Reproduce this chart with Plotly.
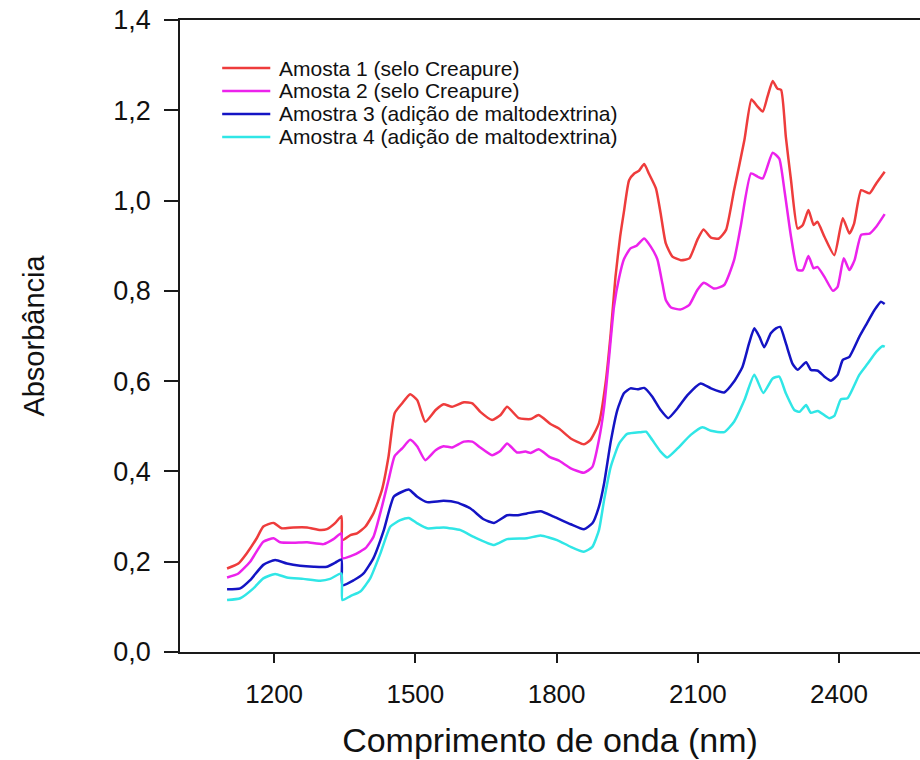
import plotly.graph_objects as go

# NIR absorbance spectra of four creatine samples
wl_a1 = [1100, 1124, 1142, 1163, 1177, 1199, 1216, 1241, 1270, 1298, 1312, 1330, 1343, 1345, 1362, 1376,
         1394, 1411, 1429, 1443, 1456, 1472, 1489, 1504, 1521, 1543, 1560, 1578, 1603, 1621, 1638, 1663,
         1681, 1695, 1720, 1745, 1762, 1787, 1805, 1830, 1858, 1872, 1890, 1904, 1915, 1925, 1935, 1943,
         1954, 1965, 1975, 1986, 1996, 2011, 2021, 2032, 2046, 2064, 2082, 2099, 2112, 2128, 2145, 2160,
         2177, 2199, 2214, 2227, 2238, 2248, 2259, 2269, 2277, 2287, 2298, 2312, 2323, 2335, 2346, 2354,
         2369, 2390, 2408, 2422, 2432, 2447, 2465, 2479, 2497]
abs_a1 = [0.185, 0.196, 0.219, 0.252, 0.278, 0.286, 0.274, 0.276, 0.276, 0.270, 0.272, 0.286, 0.301, 0.248, 0.259, 0.263,
          0.278, 0.307, 0.359, 0.433, 0.529, 0.551, 0.571, 0.558, 0.510, 0.536, 0.549, 0.543, 0.553, 0.551, 0.532, 0.514,
          0.525, 0.543, 0.518, 0.516, 0.525, 0.505, 0.495, 0.473, 0.460, 0.470, 0.507, 0.595, 0.706, 0.830, 0.920, 0.975,
          1.045, 1.060, 1.066, 1.081, 1.060, 1.027, 0.972, 0.905, 0.876, 0.868, 0.872, 0.913, 0.936, 0.918, 0.916, 0.935,
          1.023, 1.134, 1.224, 1.208, 1.197, 1.230, 1.265, 1.248, 1.245, 1.141, 1.045, 0.938, 0.946, 0.979, 0.946, 0.953,
          0.920, 0.879, 0.961, 0.927, 0.949, 1.023, 1.016, 1.038, 1.064]

wl_a2 = [1100, 1124, 1149, 1177, 1199, 1213, 1241, 1270, 1305, 1326, 1343, 1345, 1369, 1394, 1411, 1429,
         1443, 1456, 1472, 1489, 1504, 1521, 1543, 1560, 1578, 1603, 1621, 1638, 1663, 1681, 1695, 1716,
         1734, 1745, 1762, 1787, 1805, 1830, 1858, 1876, 1890, 1901, 1911, 1922, 1933, 1943, 1957, 1970,
         1986, 2000, 2014, 2025, 2032, 2043, 2064, 2082, 2099, 2113, 2135, 2156, 2177, 2191, 2213, 2227,
         2238, 2259, 2273, 2284, 2298, 2312, 2323, 2335, 2346, 2354, 2369, 2387, 2397, 2410, 2422, 2433,
         2447, 2465, 2479, 2497]
abs_a2 = [0.165, 0.174, 0.200, 0.244, 0.252, 0.243, 0.242, 0.243, 0.239, 0.250, 0.263, 0.208, 0.215, 0.230, 0.255, 0.322,
          0.381, 0.434, 0.451, 0.470, 0.455, 0.425, 0.447, 0.456, 0.453, 0.466, 0.466, 0.453, 0.436, 0.446, 0.462, 0.442,
          0.444, 0.441, 0.449, 0.431, 0.424, 0.407, 0.397, 0.410, 0.470, 0.543, 0.647, 0.765, 0.830, 0.870, 0.894, 0.900,
          0.916, 0.898, 0.870, 0.815, 0.780, 0.763, 0.759, 0.769, 0.802, 0.818, 0.805, 0.813, 0.868, 0.942, 1.060, 1.053,
          1.049, 1.106, 1.093, 1.023, 0.920, 0.846, 0.846, 0.877, 0.850, 0.853, 0.831, 0.800, 0.809, 0.872, 0.846, 0.868,
          0.924, 0.927, 0.942, 0.970]

wl_a3 = [1100, 1128, 1149, 1177, 1202, 1227, 1255, 1284, 1312, 1330, 1343, 1345, 1369, 1390, 1411, 1433,
         1454, 1472, 1486, 1504, 1525, 1560, 1589, 1617, 1645, 1667, 1695, 1716, 1737, 1766, 1794, 1830,
         1858, 1876, 1890, 1901, 1915, 1929, 1943, 1957, 1972, 1986, 2003, 2021, 2037, 2057, 2078, 2106,
         2128, 2156, 2177, 2195, 2209, 2220, 2231, 2241, 2255, 2266, 2275, 2287, 2301, 2312, 2330, 2340,
         2355, 2369, 2383, 2397, 2408, 2422, 2443, 2457, 2475, 2489, 2497]
abs_a3 = [0.139, 0.141, 0.159, 0.193, 0.204, 0.196, 0.191, 0.189, 0.189, 0.198, 0.205, 0.148, 0.159, 0.174, 0.208, 0.270,
          0.344, 0.355, 0.360, 0.344, 0.332, 0.335, 0.331, 0.318, 0.294, 0.286, 0.303, 0.303, 0.307, 0.312, 0.300, 0.283,
          0.272, 0.285, 0.322, 0.374, 0.466, 0.536, 0.573, 0.584, 0.582, 0.585, 0.566, 0.536, 0.518, 0.540, 0.569, 0.595,
          0.584, 0.575, 0.599, 0.632, 0.684, 0.717, 0.698, 0.675, 0.706, 0.717, 0.720, 0.684, 0.639, 0.625, 0.642, 0.625,
          0.623, 0.610, 0.601, 0.614, 0.647, 0.654, 0.698, 0.724, 0.757, 0.776, 0.771]

wl_a4 = [1100, 1128, 1156, 1177, 1202, 1227, 1262, 1298, 1319, 1343, 1345, 1362, 1383, 1404, 1426, 1447,
         1468, 1486, 1504, 1525, 1560, 1596, 1624, 1667, 1695, 1737, 1766, 1801, 1830, 1858, 1876, 1890,
         1901, 1915, 1933, 1950, 1979, 1990, 2003, 2021, 2035, 2057, 2085, 2110, 2128, 2156, 2177, 2199,
         2220, 2239, 2259, 2273, 2287, 2305, 2316, 2330, 2340, 2355, 2379, 2390, 2404, 2418, 2443, 2461,
         2479, 2493, 2497]
abs_a4 = [0.115, 0.119, 0.141, 0.163, 0.173, 0.165, 0.162, 0.158, 0.162, 0.174, 0.115, 0.124, 0.134, 0.163, 0.219, 0.278,
          0.292, 0.297, 0.285, 0.274, 0.276, 0.270, 0.255, 0.237, 0.250, 0.252, 0.258, 0.248, 0.233, 0.222, 0.233, 0.270,
          0.337, 0.410, 0.462, 0.483, 0.487, 0.488, 0.470, 0.444, 0.431, 0.451, 0.481, 0.498, 0.490, 0.487, 0.510, 0.558,
          0.614, 0.574, 0.606, 0.610, 0.573, 0.536, 0.532, 0.547, 0.530, 0.534, 0.518, 0.523, 0.560, 0.562, 0.614, 0.639,
          0.665, 0.678, 0.676]

series_names = [
    "Amosta 1 (selo Creapure)",
    "Amosta 2 (selo Creapure)",
    "Amostra 3 (adição de maltodextrina)",
    "Amostra 4 (adição de maltodextrina)",
]
series_colors = ["#ee3c3c", "#ec22ec", "#1414c4", "#30e6e6"]
series_data = [(wl_a1, abs_a1), (wl_a2, abs_a2), (wl_a3, abs_a3), (wl_a4, abs_a4)]

x_ticks = [1200, 1500, 1800, 2100, 2400]
y_ticks = [0.0, 0.2, 0.4, 0.6, 0.8, 1.0, 1.2, 1.4]

FONT = "Liberation Sans, Arial, sans-serif"
AXIS_COLOR = "#1a1a1a"

fig = go.Figure()
for name, color, (wl, ab) in zip(series_names, series_colors, series_data):
    fig.add_trace(go.Scatter(x=wl, y=ab, mode="lines", name=name,
                             line=dict(color=color, width=2.5, shape="spline", smoothing=0.5),
                             showlegend=False))

# Hand-built legend: short colour key followed by the label
row_y = [0.924, 0.8877, 0.8513, 0.8149]
for name, color, yy in zip(series_names, series_colors, row_y):
    fig.add_shape(type="line", xref="paper", yref="paper", x0=0.057, x1=0.122, y0=yy, y1=yy,
                  line=dict(color=color, width=2.5))
    fig.add_annotation(xref="paper", yref="paper", x=0.131, y=yy, text=name, showarrow=False,
                       xanchor="left", yanchor="middle", font=dict(family=FONT, size=21, color="#111"))

fig.update_layout(
    width=920, height=760,
    margin=dict(l=180, r=0, t=20, b=108),
    paper_bgcolor="white", plot_bgcolor="white",
    separators=",.",
    font=dict(family=FONT, color="#111"),
    xaxis=dict(
        range=[1000, 2572], tickvals=x_ticks, tickformat="d",
        showline=True, linecolor=AXIS_COLOR, linewidth=1.6, mirror=True,
        ticks="outside", ticklen=9, tickwidth=1.6, tickcolor=AXIS_COLOR,
        showgrid=False, zeroline=False,
        tickfont=dict(family=FONT, size=26, color="#111"), ticklabelstandoff=9,
        title=dict(text="Comprimento de onda (nm)", font=dict(family=FONT, size=34, color="#111"), standoff=20),
    ),
    yaxis=dict(
        range=[0, 1.4], tickvals=y_ticks, tickformat=".1f",
        showline=True, linecolor=AXIS_COLOR, linewidth=1.6,
        ticks="outside", ticklen=14, tickwidth=1.6, tickcolor=AXIS_COLOR,
        showgrid=False, zeroline=False,
        tickfont=dict(family=FONT, size=27, color="#111"), ticklabelstandoff=8,
        title=dict(text="Absorbância", font=dict(family=FONT, size=29, color="#111"), standoff=60),
    ),
)

fig.write_html("out.html")
